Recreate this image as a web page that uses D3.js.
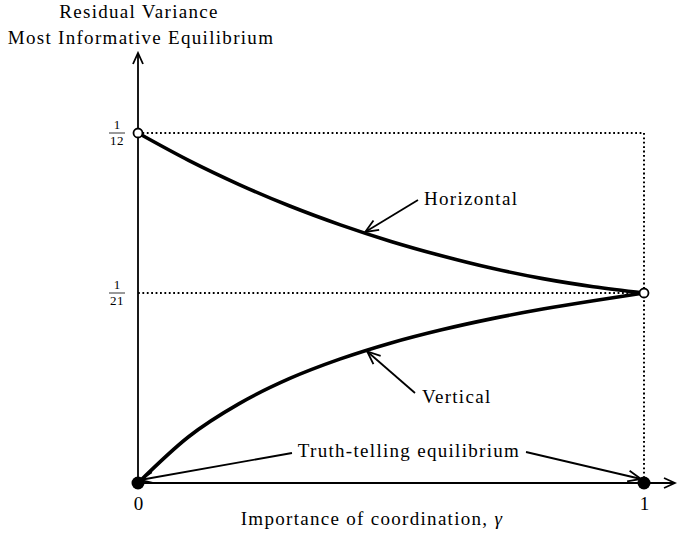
<!DOCTYPE html>
<html>
<head>
<meta charset="utf-8">
<script src="https://cdn.jsdelivr.net/npm/d3@7"></script>
<style>
  body { margin: 0; background: #fff; }
  text { font-family: "Liberation Serif", "DejaVu Serif", serif; fill: #000; }
  .lbl { font-size: 19px; letter-spacing: 1.3px; }
</style>
</head>
<body>
<div id="chart"></div>
<script>
// importance of coordination (gamma)
var gammas = [0, 0.1, 0.2, 0.3, 0.4, 0.5, 0.6, 0.7, 0.8, 0.9, 1];
// residual variance, most informative equilibrium
var horizontal = [0.08333, 0.07723, 0.07183, 0.06703, 0.06283, 0.05913, 0.05593, 0.05313, 0.05083, 0.04903, 0.04762];
var vertical = [0, 0.0116, 0.0199, 0.0262, 0.0311, 0.0351, 0.0384, 0.0412, 0.0436, 0.0457, 0.04762];
// truth-telling equilibrium
var truthTelling = [{g: 0, v: 0}, {g: 1, v: 0}];
var xTicks = [0, 1];
var yTicks = [{v: 1/21, num: "1", den: "21"}, {v: 1/12, num: "1", den: "12"}];

var svgWidth = 677;
var svgHeight = 534;

var svg = d3.select("#chart")
  .append("svg")
  .attr("width", svgWidth)
  .attr("height", svgHeight);

// schematic axis: the two marked levels are not drawn to proportion
var xScale = d3.scaleLinear().domain([0, 1]).range([138, 644]);
var yScale = d3.scaleLinear().domain([0, 1/21, 1/12]).range([483, 293, 133]);

// arrow heads
var defs = svg.append("defs");
defs.append("marker")
  .attr("id", "axisHead")
  .attr("markerUnits", "userSpaceOnUse")
  .attr("viewBox", "-14 -8 16 16")
  .attr("markerWidth", 16).attr("markerHeight", 16)
  .attr("refX", 0).attr("refY", 0)
  .attr("orient", "auto")
  .append("path")
  .attr("d", "M-11,-5 L0,0 L-11,5")
  .attr("fill", "none").attr("stroke", "#000").attr("stroke-width", 1.8);
defs.append("marker")
  .attr("id", "noteHead")
  .attr("markerUnits", "userSpaceOnUse")
  .attr("viewBox", "-16 -8 18 16")
  .attr("markerWidth", 18).attr("markerHeight", 16)
  .attr("refX", 0).attr("refY", 0)
  .attr("orient", "auto")
  .append("path")
  .attr("d", "M-13,-5.5 L0,0 L-13,5.5")
  .attr("fill", "none").attr("stroke", "#000").attr("stroke-width", 1.8);

// dotted guide lines
var dotted = svg.append("g")
  .attr("stroke", "#000").attr("stroke-width", 2)
  .attr("stroke-dasharray", "1.8,2.6").attr("fill", "none");
dotted.append("line")
  .attr("x1", xScale(0)).attr("x2", xScale(1))
  .attr("y1", yScale(1/12)).attr("y2", yScale(1/12));
dotted.append("line")
  .attr("x1", xScale(0)).attr("x2", xScale(1))
  .attr("y1", yScale(1/21)).attr("y2", yScale(1/21));
dotted.append("line")
  .attr("x1", xScale(1)).attr("x2", xScale(1))
  .attr("y1", yScale(1/12)).attr("y2", yScale(0));

// axes lines with arrows
svg.append("line")
  .attr("x1", xScale(0)).attr("y1", yScale(0))
  .attr("x2", 675).attr("y2", yScale(0))
  .attr("stroke", "#000").attr("stroke-width", 1.8)
  .attr("marker-end", "url(#axisHead)");
svg.append("line")
  .attr("x1", xScale(0)).attr("y1", yScale(0))
  .attr("x2", xScale(0)).attr("y2", 53)
  .attr("stroke", "#000").attr("stroke-width", 1.8)
  .attr("marker-end", "url(#axisHead)");

// x tick labels
var xAxis = d3.axisBottom(xScale).tickValues(xTicks).tickSize(0).tickFormat(d3.format("d"));
var xg = svg.append("g")
  .attr("transform", `translate(0, ${yScale(0) + 10})`)
  .call(xAxis);
xg.select(".domain").remove();
xg.selectAll("text")
  .style("font-family", "Liberation Serif, serif")
  .style("font-size", "19px");

// y tick labels as fractions
var yt = svg.append("g").selectAll("g")
  .data(yTicks).enter().append("g")
  .attr("transform", d => `translate(117, ${yScale(d.v)})`);
yt.append("text").attr("text-anchor", "middle").attr("y", -4)
  .style("font-size", "13px").text(d => d.num);
yt.append("line").attr("x1", -8).attr("x2", 8).attr("y1", 0).attr("y2", 0)
  .attr("stroke", "#000").attr("stroke-width", 0.8);
yt.append("text").attr("text-anchor", "middle").attr("y", 12)
  .style("font-size", "13px").style("letter-spacing", "0.6px").text(d => d.den);

// curves
var line = d3.line()
  .x((d, i) => xScale(gammas[i]))
  .y(d => yScale(d))
  .curve(d3.curveMonotoneX);
svg.append("path").datum(horizontal)
  .attr("d", line).attr("fill", "none")
  .attr("stroke", "#000").attr("stroke-width", 3.6);
svg.append("path").datum(vertical)
  .attr("d", line).attr("fill", "none")
  .attr("stroke", "#000").attr("stroke-width", 3.6);

// open end points of most informative equilibrium
svg.append("circle")
  .attr("cx", xScale(0)).attr("cy", yScale(horizontal[0])).attr("r", 4.5)
  .attr("fill", "#fff").attr("stroke", "#000").attr("stroke-width", 1.8);
svg.append("circle")
  .attr("cx", xScale(1)).attr("cy", yScale(horizontal[horizontal.length - 1])).attr("r", 4.5)
  .attr("fill", "#fff").attr("stroke", "#000").attr("stroke-width", 1.8);

// truth-telling points
svg.selectAll(".truth")
  .data(truthTelling).enter().append("circle")
  .attr("class", "truth")
  .attr("cx", d => xScale(d.g)).attr("cy", d => yScale(d.v))
  .attr("r", 6.5).attr("fill", "#000");

// annotations
function note(x1, y1, x2, y2) {
  svg.append("line")
    .attr("x1", x1).attr("y1", y1).attr("x2", x2).attr("y2", y2)
    .attr("stroke", "#000").attr("stroke-width", 1.8)
    .attr("marker-end", "url(#noteHead)");
}
var hTip = 0.449, vTip = 0.453;
var hAt = d3.scaleLinear().domain(gammas).range(horizontal);
var vAt = d3.scaleLinear().domain(gammas).range(vertical);
note(418, 200, xScale(hTip), yScale(hAt(hTip)) - 1);
note(415, 393, xScale(vTip), yScale(vAt(vTip)) + 1);
note(292, 453, xScale(0) + 2, yScale(0) - 3);
note(526, 452, xScale(1) - 3, yScale(0) - 4);

svg.append("text").attr("class", "lbl").attr("x", 424).attr("y", 205).text("Horizontal");
svg.append("text").attr("class", "lbl").attr("x", 422).attr("y", 403).text("Vertical");
svg.append("text").attr("class", "lbl").attr("x", 409).attr("y", 457).attr("text-anchor", "middle")
  .text("Truth-telling equilibrium");

// axis titles
svg.append("text").attr("class", "lbl").attr("x", 139).attr("y", 18).attr("text-anchor", "middle")
  .text("Residual Variance");
svg.append("text").attr("class", "lbl").attr("x", 141).attr("y", 44).attr("text-anchor", "middle")
  .text("Most Informative Equilibrium");
var xt = svg.append("text").attr("class", "lbl").attr("x", 372).attr("y", 525).attr("text-anchor", "middle");
xt.append("tspan").text("Importance of coordination, ");
xt.append("tspan").style("font-style", "italic").text("γ");
</script>
</body>
</html>
